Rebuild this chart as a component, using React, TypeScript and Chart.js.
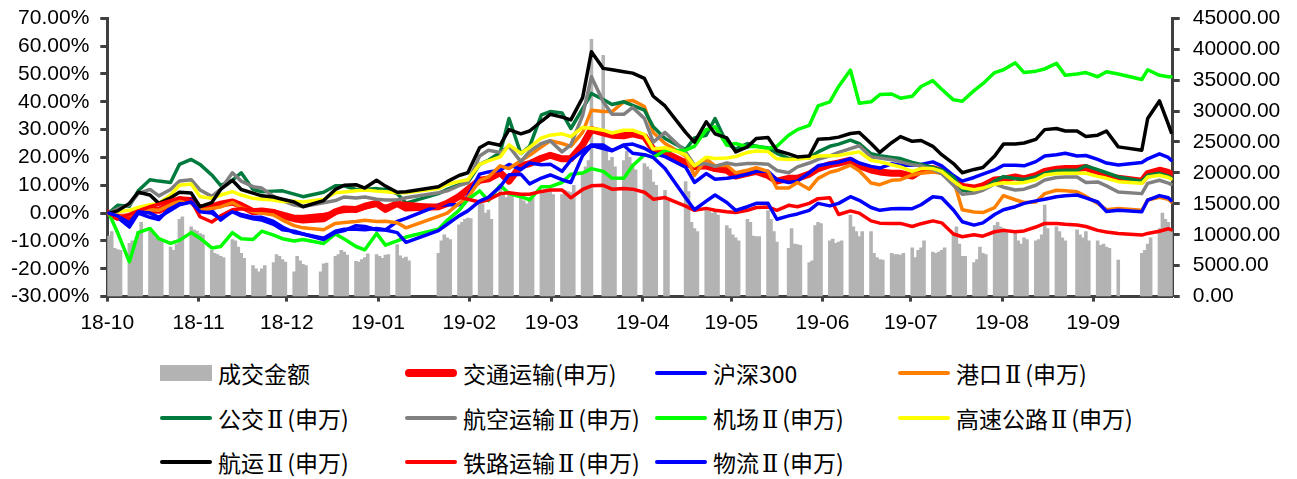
import React, { useEffect, useRef } from "react";
import { Chart, registerables } from "chart.js";

Chart.register(...registerables);

// ---------- calendar ----------
const AXIS_START = "2018-10-22";
const AXIS_SPAN_DAYS = 362;
const LAST_TRADING_DAY = "2019-10-18";

const monthTickDates = [
  "2018-10-22", "2018-11-22", "2018-12-22", "2019-01-22", "2019-02-22", "2019-03-22",
  "2019-04-22", "2019-05-22", "2019-06-22", "2019-07-22", "2019-08-22", "2019-09-22",
];
const monthTickLabels = [
  "18-10", "18-11", "18-12", "19-01", "19-02", "19-03",
  "19-04", "19-05", "19-06", "19-07", "19-08", "19-09",
];

const holidays = [
  "2018-12-31", "2019-01-01",
  "2019-02-04", "2019-02-05", "2019-02-06", "2019-02-07", "2019-02-08",
  "2019-04-05", "2019-05-01", "2019-05-02", "2019-05-03", "2019-06-07", "2019-09-13",
  "2019-10-01", "2019-10-02", "2019-10-03", "2019-10-04", "2019-10-07",
];

// ---------- 成交金额 (daily, grouped by trading week) ----------
const turnoverWeeks: number[][] = [
  [9800, 10500, 7800, 7600, 7500],
  [8600, 9000, 8800, 10500, 12000],
  [10800, 10500, 9500, 9200, 9000],
  [8000, 7500, 8500, 12500, 12900],
  [11300, 10800, 10600, 10200, 10000],
  [7500, 7000, 6800, 6500, 6300],
  [9200, 9000, 8000, 7000, 6200],
  [5000, 4500, 4000, 4500, 5000],
  [5500, 6800, 6500, 6000, 5600],
  [4000, 6500, 5800, 5200, 5000],
  [4000, 5300, 5400],
  [6500, 6800, 7500, 7200, 6700],
  [5700, 5600, 6000, 6300, 6900],
  [6800, 6500, 6200, 6700, 6800],
  [8400, 6600, 6200, 6400, 5800],
  [],
  [7000, 9000, 10000, 9500, 9200],
  [11600, 12000, 12500, 12700, 12600],
  [15500, 15000, 13500, 14000, 12500],
  [17500, 16800, 16000, 17000, 16500],
  [16200, 15500, 15000, 15800, 16000],
  [17000, 17200, 16800, 17000, 16500],
  [16500, 17200, 17000, 16800, 18000],
  [20000, 21000, 22000, 41600],
  [39000, 24000, 22000, 22500, 21000],
  [22000, 23500, 22500, 21500, 20500],
  [21500, 21000, 20500, 18500, 18000],
  [17200, 15500],
  [18600, 17000, 12000, 11000, 10500],
  [14000, 13800, 13500, 13800, 13200],
  [11500, 11000, 10000, 9500, 9000],
  [12500, 12000, 9800, 9700, 9700],
  [13900, 12500, 10500, 8800],
  [7800, 11000, 8500, 8400, 8300],
  [5500, 5800, 11500, 12000, 11800],
  [9000, 9300, 8600, 8800, 9000],
  [13200, 11300, 10500, 9700, 10500],
  [10500, 7000, 6300, 6000, 5900],
  [7000, 6800, 6800, 6700, 7000],
  [7900, 6300, 7500, 7900, 9000],
  [7200, 7000, 7200, 7500, 7900],
  [10000, 11300, 8500, 6500, 6500],
  [5500, 6000, 8000, 7000, 6800],
  [11500, 12000, 11300, 11000, 10500],
  [10500, 9000, 8500, 9500, 9200],
  [9000, 9200, 10000, 14800, 11000],
  [11300, 10500, 9500, 9000],
  [10800, 10000, 9500, 10500, 9000],
  [9000, 8300, 8500, 8000, 7800],
  [5900],
  [7000, 7500, 8500, 9500],
  [11000, 13500, 12500, 12000, 10500],
];

// ---------- index lines (% change), sampled dates ----------
const sampleDates = [
  "2018-10-22", "2018-10-25", "2018-10-29", "2018-11-01", "2018-11-05", "2018-11-08",
  "2018-11-12", "2018-11-15", "2018-11-19", "2018-11-22", "2018-11-26", "2018-11-29",
  "2018-12-03", "2018-12-06", "2018-12-10", "2018-12-13", "2018-12-17", "2018-12-20",
  "2018-12-24", "2018-12-27", "2019-01-03", "2019-01-07", "2019-01-10", "2019-01-14",
  "2019-01-17", "2019-01-21", "2019-01-24", "2019-01-28", "2019-01-31", "2019-02-11",
  "2019-02-14", "2019-02-18", "2019-02-21", "2019-02-25", "2019-02-28", "2019-03-04",
  "2019-03-07", "2019-03-11", "2019-03-14", "2019-03-18", "2019-03-21", "2019-03-25",
  "2019-03-28", "2019-04-01", "2019-04-04", "2019-04-08", "2019-04-11", "2019-04-15",
  "2019-04-18", "2019-04-22", "2019-04-25", "2019-04-29", "2019-05-06", "2019-05-09",
  "2019-05-13", "2019-05-16", "2019-05-20", "2019-05-23", "2019-05-27", "2019-05-30",
  "2019-06-03", "2019-06-06", "2019-06-10", "2019-06-13", "2019-06-17", "2019-06-20",
  "2019-06-24", "2019-06-27", "2019-07-01", "2019-07-04", "2019-07-08", "2019-07-11",
  "2019-07-15", "2019-07-18", "2019-07-22", "2019-07-25", "2019-07-29", "2019-08-01",
  "2019-08-05", "2019-08-08", "2019-08-12", "2019-08-15", "2019-08-19", "2019-08-22",
  "2019-08-26", "2019-08-29", "2019-09-02", "2019-09-05", "2019-09-09", "2019-09-12",
  "2019-09-16", "2019-09-19", "2019-09-23", "2019-09-26", "2019-09-30", "2019-10-08",
  "2019-10-10", "2019-10-14", "2019-10-17", "2019-10-18",
];

// 交通运输(申万)
const jiaotongYunshu = [
  0, -1.5, -1.5, 0.8, 1, 1, 3, 4.8, 4.5, 1.7, 2.2, 3.2, 4, 2.7, 0.5, 0.8, 0.2, -1,
  -2, -2.5, -2, 0.5, 1.5, 1.3, 2.5, 3.5, 1.3, 3.5, 1.8, 2.3, 3.5, 6, 8.5,
  11.8, 12.3, 14.5, 11.5, 17, 17.8, 19.7, 20.8, 19.5, 19.5, 24.5, 30, 28.8, 28, 27.8, 28.5, 27.5,
  22.8, 21.6, 18, 16.7, 17, 16, 15.4, 13.3, 14.3, 15, 13.5, 11.5, 12.5, 12.5, 14, 16,
  17.4, 18, 19, 17, 15.5, 14.8, 14.3, 14.3, 13.3, 15.4, 16, 15, 12, 9.6, 9, 9.8, 11.9, 12.2,
  13, 12.3, 13.5, 15, 15.8, 16, 16, 16.4, 14.6, 13.5, 12.5, 11.5, 14.2, 15.4, 14.6, 14,
];
// 沪深300
const hs300 = [
  0, -1.5, -5, 0, -1.5, -2.3, 2, 4, 4.8, 1, 1, -2.5, 0.8, -0.5, -1.5, -1.5, -3, -5,
  -7, -7.5, -9, -6.5, -5.8, -5.8, -6, -5.5, -6, -3, -1.9, 2.8, 3, 3, 6,
  14, 14.8, 15.4, 17.5, 15.6, 18, 17.4, 17.6, 15, 19, 22.4, 24.5, 24.5, 22.5, 24.5, 24.8, 23.3,
  21.5, 20.3, 16.5, 11, 14.2, 12.2, 12.5, 13, 14, 15, 15, 12, 11, 11.5, 14.5, 17,
  17.8, 18.3, 19.6, 18, 16.8, 16.2, 17.7, 17.2, 17.2, 17.5, 18.4, 17, 13.5, 11.5, 12.8, 14, 15.5, 17.2,
  17.2, 17, 18.5, 20.5, 21, 21.5, 20.5, 20.7, 19.3, 18, 17.3, 18.2, 19.5, 21.3, 20, 19,
];
// 港口Ⅱ(申万)
const gangkou = [
  0, -1.3, -0.7, 1.5, 1.2, 1, 3, 4.7, 4, 1, 1.7, 2.2, 3.8, 2, 0.5, 0, -0.7, -2.5,
  -4.5, -5.3, -6, -3.7, -3.4, -3, -2.6, -3, -2.9, -3.5, -5.3, -1.2, 0, 3.5, 5.5,
  11.7, 13, 17, 16, 18.8, 20.8, 23.8, 26, 25, 24, 29, 37, 36.5, 36.5, 40, 40.5, 38.3,
  29, 25, 20.5, 13.5, 19.5, 17, 17.2, 14.5, 15.4, 16.3, 15, 9, 9, 11, 8.6, 12.5,
  14.7, 15.5, 17.2, 15.2, 10.8, 10.2, 11.8, 12, 13.7, 14.3, 14.8, 14.3, 12, 1.2, 0.4, 0.2, 2, 6.3,
  4.8, 3.8, 4, 7, 8.2, 8, 7.7, 6, 3.5, 1.2, 1.7, 1, 4.7, 5.7, 5, 4,
];
// 公交Ⅱ(申万)
const gongjiao = [
  0, 2.8, 2.5, 8, 12, 11.5, 11, 17.5, 19.3, 17.5, 13.7, 10, 11.8, 14.5, 8.5, 7.7, 7.9, 8,
  6.8, 5.9, 7.5, 9.8, 9.8, 8.5, 8.5, 8.8, 8.5, 7, 3.6, 7, 8.5, 10.2, 11,
  17.5, 19, 21.8, 34, 21.4, 24, 35.3, 36.5, 36, 30.4, 37.5, 43, 40.8, 39, 40, 38.7, 37,
  31, 26.8, 22.8, 27, 28, 34, 25, 23, 25, 24, 23.4, 21.5, 19.7, 19.6, 19.8, 22,
  24, 24.8, 26.2, 25, 21.3, 20.6, 20, 19.6, 18.2, 17.5, 16.4, 15.5, 13, 8.2, 7.8, 8.7, 11.5, 13.1,
  12.4, 12.1, 13, 14.3, 15.2, 15.4, 15.4, 17, 15.6, 14.5, 13, 11.5, 13.6, 14.3, 13.3, 12.8,
];
// 航空运输Ⅱ(申万)
const hangkongYunshu = [
  0, 1.5, 3, 7, 8.5, 6.2, 8.5, 11.5, 12, 8.3, 6, 8.5, 14.5, 11.5, 9.5, 9, 6, 4.5,
  2.9, 2.4, 3.7, 4.5, 5.8, 5.4, 5.8, 5, 4.7, 4.7, 5.5, 7.3, 8, 9.9, 11,
  20.5, 22.6, 21.8, 24, 18.5, 22.2, 25, 26, 22, 24.5, 35, 49, 40, 35.5, 35.5, 38, 34,
  25.5, 29, 22, 17.3, 17.8, 16.8, 18, 17.4, 17.8, 17.8, 17.6, 15.3, 14.5, 16.6, 18, 19.3,
  20.6, 21.8, 23.2, 24.2, 20.2, 19.8, 19.2, 18.4, 17.4, 17, 15.7, 14.2, 10, 6.8, 7.2, 8.2, 10.5, 9.3,
  8.3, 8.6, 10, 11.9, 12.8, 13, 13, 11, 11.2, 9.8, 7.6, 7, 10.7, 11.8, 10.8, 10.3,
];
// 机场Ⅱ(申万)
const jichang = [
  0, -7, -17.5, -7, -5.5, -9.2, -10.9, -9.8, -7, -9, -12.5, -12, -7, -9.2, -9.5, -6.5, -7.9, -9.2,
  -10, -9.5, -10.9, -7.5, -9.3, -12, -13.2, -7.3, -11.5, -10, -8.6, -5.8, -2.6, 1, 4.9,
  8, 4.5, 10, 7, 5.9, 4.8, 9.5, 9.5, 11, 14, 14.4, 16, 15, 12.6, 12.5, 17, 21,
  20, 22.5, 22.6, 24, 30, 31, 24.4, 25, 23.8, 24, 23.2, 24, 28, 30, 31.5, 38.5,
  40, 45.5, 51.4, 39.5, 40, 42.6, 42.8, 41.3, 42, 45.5, 47.6, 44.5, 40.7, 40.2, 44, 46.5, 50.5, 51.5,
  54, 50.5, 51, 51.8, 53.8, 49.5, 50, 50.5, 49, 50.8, 50, 48, 51.5, 49.5, 49, 49,
];
// 高速公路Ⅱ(申万)
const gaosuGonglu = [
  0, 0.5, 1, 2, 3, 3.5, 6.5, 10, 10.5, 6, 5.3, 6.5, 7.7, 6.5, 5.3, 5, 4.7, 4.2,
  4.3, 4, 5, 7.3, 7.6, 8, 8.3, 7.9, 7.7, 7.3, 7.3, 8.8, 10.3, 11.4, 12,
  17.5, 18.8, 20.2, 24.5, 21.5, 23.6, 27, 28, 28.5, 27.5, 30.8, 30.5, 29.8, 28.8, 29.8, 29.8, 28.3,
  23, 23.5, 21, 17, 20.1, 19.6, 19.8, 20.3, 21.8, 22.3, 22.1, 19.5, 19.3, 19.4, 19.8, 20.5,
  20.6, 20.7, 21.5, 22, 19, 18.4, 17.4, 16.6, 15, 16, 16, 15, 11.5, 9.2, 8.4, 9, 10.4, 10.9,
  10.7, 11, 12, 13.7, 14.2, 14.3, 14.3, 14.3, 13.2, 12.5, 11.3, 10.7, 13, 13.6, 12.8, 12.3,
];
// 航运Ⅱ(申万)
const hangyun = [
  0, 0.8, 3.5, 7.5, 6.5, 3.5, 5.5, 7.5, 7.2, 2.3, 3.8, 8.5, 11.8, 8.5, 7.2, 6.2, 5.8, 5,
  4, 2.3, 4.5, 8.5, 10, 10.2, 9, 11.8, 9.7, 7.5, 7.7, 9.5, 11.3, 13.5, 14.5,
  23.5, 25.3, 24.4, 30, 28.5, 29.5, 33, 35.5, 34.5, 33.5, 41.5, 58, 52, 51.5, 50.8, 50.3, 48.4,
  42, 38.5, 29, 25.5, 32.8, 28.5, 27, 22, 23.8, 26.8, 27.2, 22.5, 21.3, 20.2, 20.5, 26.5,
  26.8, 27.3, 28.6, 29, 25, 21.8, 25.3, 27.5, 25.8, 26.1, 24, 21, 17.8, 14.5, 15.7, 16.4, 20.5, 24.8,
  24.8, 25.2, 26.5, 30, 30.4, 29.5, 29.5, 27.5, 28, 29.5, 23.8, 22.6, 34, 40.3, 32, 29,
];
// 铁路运输Ⅱ(申万)
const tieluYunshu = [
  0, -1.8, -0.5, 0.8, 2.3, 3.2, 4.5, 5.5, 4.5, -1.3, -3.2, -1, 1.2, 1.6, 1, 1, 0.8, 0,
  -1.2, -1.2, -0.5, 0.3, 0.6, 1, 1.8, 2.9, 2.5, 3.5, 3.5, 2.5, 4, 5.7, 5,
  4, 4.8, 7, 7.3, 6.8, 6.8, 7.8, 8.3, 8.3, 5.5, 8.5, 9.8, 10, 8.6, 8.8, 8.6, 7.5,
  5, 5.6, 2.5, 1, 1.7, 1, 0.5, 0.2, 1, 2, 2.2, 1, 2.8, 2.3, 3.5, 5.2,
  5.5, -0.5, 0.8, 0, -2.8, -3.6, -3.7, -3.7, -4.8, -3.8, -2.8, -3.5, -7.5, -8.5, -7.8, -8.3, -6.7, -6.2,
  -6.7, -6.4, -5, -3.7, -3.7, -4, -4.3, -4.8, -6.2, -6.8, -7.3, -7.9, -7.3, -6.5, -5.6, -6,
];
// 物流Ⅱ(申万)
const wuliu = [
  0, -1, -3.5, 0.5, 0, -1.5, 1, 3, 4, 0.5, 0, -2, 0.5, -1, -2, -2.5, -4, -6,
  -6.5, -7.5, -9.5, -7, -6.3, -4.5, -4.8, -6, -6.1, -7, -10.5, -6.3, -4, -1, 0.8,
  4.3, 5.7, 9.5, 13.8, 14, 10.5, 12.6, 13.7, 12, 11, 20.7, 24.3, 23.2, 22.4, 24.3, 21.5, 21,
  20, 16, 5.5, 1.2, 4.3, 6.5, 3.8, 1, 2.3, 3.5, 3.5, -2.2, -1, -0.3, 1, 3.5,
  2.6, 3.5, 5.9, 4.6, 2, 1, 1.6, 1.7, 1.6, 3, 5.9, 5.5, 1.1, -3.1, -4.3, -3.5, -0.5, 1.2,
  2.3, 3.5, 4.4, 5, 5.9, 6.2, 6.5, 5.5, 4, 0.6, 1, 0.5, 4.7, 6.3, 5.5, 4.5,
];

const TURNOVER_LABEL = "成交金额";
const SERIES = [
  { label: "交通运输(申万)", values: jiaotongYunshu, color: "#ff0000", width: 7 },
  { label: "沪深300", values: hs300, color: "#0000ff", width: 3.5 },
  { label: "港口Ⅱ(申万)", values: gangkou, color: "#ff8000", width: 3.5 },
  { label: "公交Ⅱ(申万)", values: gongjiao, color: "#007a3d", width: 3.5 },
  { label: "航空运输Ⅱ(申万)", values: hangkongYunshu, color: "#808080", width: 3.5 },
  { label: "机场Ⅱ(申万)", values: jichang, color: "#00ff00", width: 3.5 },
  { label: "高速公路Ⅱ(申万)", values: gaosuGonglu, color: "#ffff00", width: 3.5 },
  { label: "航运Ⅱ(申万)", values: hangyun, color: "#000000", width: 3.5 },
  { label: "铁路运输Ⅱ(申万)", values: tieluYunshu, color: "#ff0000", width: 3.5 },
  { label: "物流Ⅱ(申万)", values: wuliu, color: "#0000ff", width: 3.5 },
];
const BAR_COLOR = "#b3b3b3";
const AXIS_COLOR = "#404040";
const TICK_FONT = { family: "'Liberation Sans', Arial, sans-serif", size: 21 };

function parseUTC(s: string): number {
  const [y, m, d] = s.split("-").map(Number);
  return Date.UTC(y, m - 1, d);
}
function dayIndex(s: string): number {
  return Math.round((parseUTC(s) - parseUTC(AXIS_START)) / 86400000);
}
function tradingDayIndices(): number[] {
  const hol = new Set(holidays.map(dayIndex));
  const end = dayIndex(LAST_TRADING_DAY);
  const start = parseUTC(AXIS_START);
  const out: number[] = [];
  for (let d = 0; d <= end; d++) {
    const wd = new Date(start + d * 86400000).getUTCDay();
    if (wd === 0 || wd === 6 || hol.has(d)) continue;
    out.push(d);
  }
  return out;
}

const W = 1297;
const CANVAS_H = 345;
const PLOT_TOP = 18.3;
const PLOT_BOTTOM = 296.6;
const PLOT_LEFT = 107.3;
const PLOT_RIGHT = 1172.7;

function LegendText({ text }: { text: string }) {
  const parts = text.split("Ⅱ");
  return (
    <>
      {parts.map((p, i) => (
        <React.Fragment key={i}>
          {p}
          {i < parts.length - 1 ? (
            <span style={{ fontFamily: "'DejaVu Serif', serif", fontSize: 24, margin: "0 4px 0 3px" }}>Ⅱ</span>
          ) : null}
        </React.Fragment>
      ))}
    </>
  );
}

export default function App() {
  const ref = useRef<HTMLCanvasElement | null>(null);

  useEffect(() => {
    const canvas = ref.current;
    if (!canvas) return;
    const days = tradingDayIndices();
    const turnover = turnoverWeeks.flat();
    const barData = days.map((d, i) => ({ x: d + 0.5, y: turnover[i] ?? null }));
    const tickDays = monthTickDates.map(dayIndex);

    const lineSets = SERIES.map((s, idx) => ({
      type: "line" as const,
      label: s.label,
      data: sampleDates.map((ds, i) => ({ x: dayIndex(ds) + 0.5, y: s.values[i] })),
      borderColor: s.color,
      backgroundColor: s.color,
      borderWidth: s.width,
      pointRadius: 0,
      pointHoverRadius: 0,
      tension: 0,
      fill: false,
      borderJoinStyle: "round" as const,
      borderCapStyle: "round" as const,
      yAxisID: "y",
      xAxisID: "x",
      order: 20 - idx,
    }));

    const fixVertical = (width: number) => (axis: any) => {
      axis.width = width;
      axis.paddingTop = 0;
      axis.paddingBottom = 0;
    };

    const chart = new Chart(canvas, {
      type: "line",
      data: {
        datasets: [
          {
            type: "bar" as const,
            label: TURNOVER_LABEL,
            data: barData,
            backgroundColor: BAR_COLOR,
            borderWidth: 0,
            barPercentage: 1,
            categoryPercentage: 1,
            yAxisID: "y2",
            xAxisID: "x",
            order: 100,
          } as any,
          ...lineSets,
        ],
      },
      options: {
        animation: false,
        responsive: false,
        maintainAspectRatio: false,
        devicePixelRatio: 1,
        events: [],
        layout: { padding: { top: PLOT_TOP, left: 0, right: 0, bottom: 0 } },
        plugins: { legend: { display: false }, tooltip: { enabled: false } },
        scales: {
          x: {
            type: "linear",
            position: "bottom",
            min: 0,
            max: AXIS_SPAN_DAYS,
            offset: false,
            grid: {
              offset: false,
              drawOnChartArea: false,
              drawTicks: true,
              tickLength: 5,
              tickWidth: 3,
              tickColor: AXIS_COLOR,
            },
            border: { display: true, color: AXIS_COLOR, width: 3 },
            afterBuildTicks: (axis: any) => {
              axis.ticks = tickDays.map((v) => ({ value: v }));
            },
            afterFit: (axis: any) => {
              axis.height = CANVAS_H - PLOT_BOTTOM;
              axis.paddingLeft = 0;
              axis.paddingRight = 0;
            },
            ticks: {
              autoSkip: false,
              maxRotation: 0,
              minRotation: 0,
              padding: 9,
              color: "#000",
              font: TICK_FONT,
              callback: (_v: any, i: number) => monthTickLabels[i],
            },
          },
          y: {
            type: "linear",
            position: "left",
            min: -30,
            max: 70,
            grid: {
              drawOnChartArea: false,
              drawTicks: true,
              tickLength: 7,
              tickWidth: 3,
              tickColor: AXIS_COLOR,
            },
            border: { display: true, color: AXIS_COLOR, width: 3 },
            afterFit: fixVertical(PLOT_LEFT),
            ticks: {
              stepSize: 10,
              autoSkip: false,
              padding: 11,
              color: "#000",
              font: TICK_FONT,
              callback: (v: any) => Number(v).toFixed(2) + "%",
            },
          },
          y2: {
            type: "linear",
            position: "right",
            min: 0,
            max: 45000,
            grid: {
              drawOnChartArea: false,
              drawTicks: true,
              tickLength: 7,
              tickWidth: 3,
              tickColor: AXIS_COLOR,
            },
            border: { display: true, color: AXIS_COLOR, width: 3 },
            afterFit: fixVertical(W - PLOT_RIGHT),
            ticks: {
              stepSize: 5000,
              autoSkip: false,
              padding: 13,
              color: "#000",
              font: TICK_FONT,
              callback: (v: any) => Number(v).toFixed(2),
            },
          },
        },
      } as any,
    });
    return () => chart.destroy();
  }, []);

  const legendItems = [
    { label: TURNOVER_LABEL, color: BAR_COLOR, kind: "box", width: 0 },
    ...SERIES.map((s) => ({ label: s.label, color: s.color, kind: "line", width: s.width })),
  ];
  const colX = [160, 405, 655, 898];
  const rowY = [373, 418, 462];

  return (
    <div
      style={{
        position: "fixed",
        left: 0,
        top: 0,
        width: W,
        height: 479,
        background: "#fff",
        overflow: "hidden",
      }}
    >
      <canvas
        ref={ref}
        width={W}
        height={CANVAS_H}
        style={{ position: "absolute", left: 0, top: 0, width: W, height: CANVAS_H }}
      />
      {legendItems.map((it, i) => {
        const col = i % 4;
        const row = Math.floor(i / 4);
        const x = colX[col];
        const y = rowY[row];
        const symH = it.kind === "box" ? 16 : it.width > 5 ? 8 : 4;
        return (
          <React.Fragment key={it.label + i}>
            <div
              style={{
                position: "absolute",
                left: x,
                top: y - symH / 2,
                width: 52,
                height: symH,
                background: it.color,
                borderRadius: it.kind === "box" ? 0 : symH / 2,
              }}
            />
            <div
              style={{
                position: "absolute",
                left: x + 58,
                top: y - 16,
                height: 32,
                lineHeight: "32px",
                fontSize: 23,
                color: "#000",
                whiteSpace: "nowrap",
                fontFamily: "'Noto Sans CJK SC', 'Noto Sans', sans-serif",
              }}
            >
              <LegendText text={it.label} />
            </div>
          </React.Fragment>
        );
      })}
    </div>
  );
}
